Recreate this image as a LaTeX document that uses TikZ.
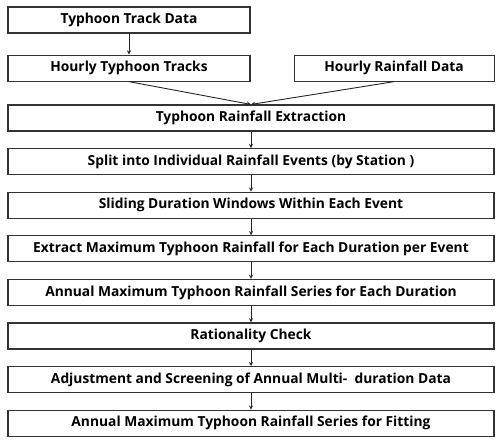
\documentclass[tikz,border=0pt]{standalone}
\usepackage{fontspec}
\setmainfont{Open Sans}
\usepackage{tikz}
\usetikzlibrary{positioning, arrows}
\tikzset{
node distance=16.5pt, % gap between the boxes of the chain
flow/.style={->, >=stealth, line width=0.9pt, black!85}, % every connector, with a small filled head
stepbox/.style={draw=black!80, line width=1.1pt, fill=white, minimum height=26pt, inner sep=0pt, font=\bfseries\fontsize{13.8}{15}\selectfont}, % every box of the flow
widebox/.style={stepbox, minimum width=486pt}, % boxes over the full width
}

\begin{document}
\begin{tikzpicture}
        \useasboundingbox (0,0) rectangle (500pt,-443pt);
        \node[stepbox, minimum width=242pt] (track) at (129pt,-20pt) {Typhoon Track Data};
        \node[stepbox, minimum width=242pt, below=21pt of track] (hourtrack) {Hourly Typhoon Tracks};
        \node[stepbox, minimum width=200pt, right=43pt of hourtrack] (hourrain) {Hourly Rainfall Data};

        \node[widebox] (extract) at (251pt,-118pt) {Typhoon Rainfall Extraction};
        \node[widebox, below=of extract] (split) {Split into Individual Rainfall Events (by Station )};
        \node[widebox, below=of split] (window) {Sliding Duration Windows Within Each Event};
        \node[widebox, below=of window] (maxevent) {Extract Maximum Typhoon Rainfall for Each Duration per Event};
        \node[widebox, below=of maxevent] (annual) {Annual Maximum Typhoon Rainfall Series for Each Duration};
        \node[widebox, below=of annual] (check) {Rationality Check};
        \node[widebox, below=of check] (adjust) {Adjustment and Screening of Annual Multi-\ \ duration Data};
        \node[widebox, below=of adjust] (fitting) {Annual Maximum Typhoon Rainfall Series for Fitting};

        \draw[flow] (track) -- (hourtrack);
        \draw[flow] (hourtrack.south) -- (extract.north);
        \draw[flow] (hourrain.south) -- (extract.north);
        \draw[flow] (extract) -- (split);
        \draw[flow] (split) -- (window);
        \draw[flow] (window) -- (maxevent);
        \draw[flow] (maxevent) -- (annual);
        \draw[flow] (annual) -- (check);
        \draw[flow] (check) -- (adjust);
        \draw[flow] (adjust) -- (fitting);
    \end{tikzpicture}
\end{document}
